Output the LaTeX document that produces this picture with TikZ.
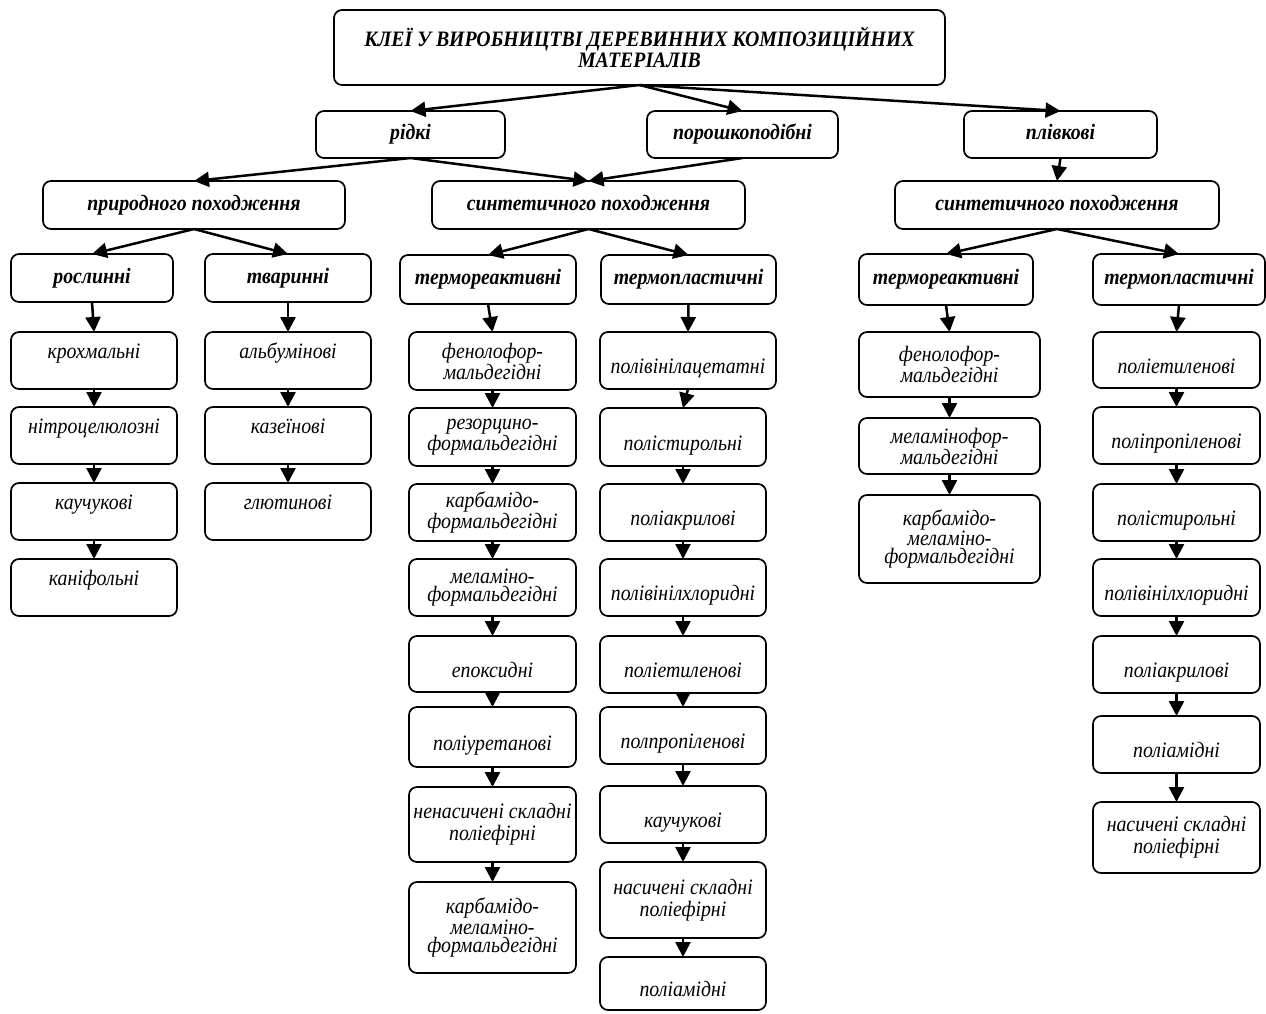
\documentclass[tikz,border=0pt]{standalone}
\usepackage{fontspec}
\setmainfont[FakeStretch=0.9]{Liberation Serif}
\usetikzlibrary{arrows.meta}
\newcommand{\txtup}[1]{\raisebox{7pt}[\height][\depth]{#1}}
\newcommand{\txtdn}[1]{\raisebox{-8pt}[\height][\depth]{#1}}
\newcommand{\mkbox}[7][leaf]{\node[#1, minimum width={#4-#2}, minimum height={#5-#3}] (#6) at ({(#2+#4)/2},{(#3+#5)/2}) {#7};}
\tikzset{
 bx/.style={draw, line width=1.7pt, rounded corners=8pt, inner sep=0pt, outer sep=0pt, align=center},
 leaf/.style={bx, font=\fontsize{22}{18}\selectfont\itshape, text height=10pt, text depth=0pt},
 leafm/.style={bx, font=\fontsize{22}{18}\selectfont\itshape},
 leafw/.style={bx, font=\fontsize{22}{22}\selectfont\itshape},
 head/.style={bx, font=\fontsize{22}{18}\selectfont\bfseries\itshape, text height=10pt, text depth=0pt},
 ttl/.style={bx, font=\fontsize{22}{21}\selectfont\bfseries\itshape},
 arr/.style={line width=2.5pt, -{Triangle[length=15pt,width=15pt]}},
}
\begin{document}
\begin{tikzpicture}[x=1pt,y=-1pt]
\useasboundingbox (0,0) rectangle (1266,1013);
% title and level 2
\mkbox[ttl]{334}{10}{945}{85}{title}{КЛЕЇ У ВИРОБНИЦТВІ ДЕРЕВИННИХ КОМПОЗИЦІЙНИХ\\МАТЕРІАЛІВ}
\mkbox[head]{316}{111}{505}{158}{ridki}{рідкі}
\mkbox[head]{647}{111}{838}{158}{poroshok}{порошкоподібні}
\mkbox[head]{964}{111}{1157}{158}{plivk}{плівкові}
% level 3
\mkbox[head]{43}{181}{345}{229}{pryr}{природного походження}
\mkbox[head]{432}{181}{745}{229}{synM}{синтетичного походження}
\mkbox[head]{895}{181}{1219}{229}{synR}{синтетичного походження}
% level 4
\mkbox[head]{11}{254}{173}{302}{rosl}{рослинні}
\mkbox[head]{205}{254}{371}{302}{tvar}{тваринні}
\mkbox[head]{400}{255}{576}{304}{trM}{термореактивні}
\mkbox[head]{601}{255}{776}{304}{tpM}{термопластичні}
\mkbox[head]{859}{254}{1033}{305}{trR}{термореактивні}
\mkbox[head]{1093}{254}{1265}{305}{tpR}{термопластичні}
% column A
\mkbox{11}{332}{177}{389}{a1}{\txtup{крохмальні}}
\mkbox{11}{407}{177}{464}{a2}{\txtup{нітроцелюлозні}}
\mkbox{11}{483}{177}{540}{a3}{\txtup{каучукові}}
\mkbox{11}{559}{177}{616}{a4}{\txtup{каніфольні}}
% column B
\mkbox{205}{332}{371}{389}{b1}{\txtup{альбумінові}}
\mkbox{205}{407}{371}{464}{b2}{\txtup{казеїнові}}
\mkbox{205}{483}{371}{540}{b3}{\txtup{глютинові}}
% column C
\mkbox[leafm]{409}{332}{576}{390}{c1}{фенолофор-\\мальдегідні}
\mkbox[leafm]{409}{408}{576}{466}{c2}{резорцино-\\формальдегідні}
\mkbox[leafm]{409}{484}{576}{541}{c3}{карбамідо-\\формальдегідні}
\mkbox[leafm]{409}{559}{576}{616}{c4}{меламіно-\\формальдегідні}
\mkbox{409}{636}{576}{692}{c5}{\txtdn{епоксидні}}
\mkbox{409}{707}{576}{767}{c6}{\txtdn{поліуретанові}}
\mkbox[leafw]{409}{787}{576}{862}{c7}{ненасичені складні\\поліефірні}
\mkbox[leafm]{409}{882}{576}{973}{c8}{карбамідо-\\меламіно-\\формальдегідні}
% column D
\mkbox{600}{332}{776}{389}{d1}{\txtdn{полівінілацетатні}}
\mkbox{600}{408}{766}{466}{d2}{\txtdn{полістирольні}}
\mkbox{600}{484}{766}{541}{d3}{\txtdn{поліакрилові}}
\mkbox{600}{559}{766}{616}{d4}{\txtdn{полівінілхлоридні}}
\mkbox{600}{636}{766}{693}{d5}{\txtdn{поліетиленові}}
\mkbox{600}{707}{766}{764}{d6}{\txtdn{полпропіленові}}
\mkbox{600}{786}{766}{843}{d7}{\txtdn{каучукові}}
\mkbox[leafw]{600}{862}{766}{938}{d8}{насичені складні\\поліефірні}
\mkbox{600}{957}{766}{1010}{d9}{\txtdn{поліамідні}}
% column E
\mkbox[leafm]{859}{332}{1040}{397}{e1}{фенолофор-\\мальдегідні}
\mkbox[leafm]{859}{418}{1040}{474}{e2}{меламінофор-\\мальдегідні}
\mkbox[leafm]{859}{495}{1040}{583}{e3}{карбамідо-\\меламіно-\\формальдегідні}
% column F
\mkbox{1093}{332}{1260}{388}{f1}{\txtdn{поліетиленові}}
\mkbox{1093}{407}{1260}{464}{f2}{\txtdn{поліпропіленові}}
\mkbox{1093}{484}{1260}{541}{f3}{\txtdn{полістирольні}}
\mkbox{1093}{559}{1260}{616}{f4}{\txtdn{полівінілхлоридні}}
\mkbox{1093}{636}{1260}{693}{f5}{\txtdn{поліакрилові}}
\mkbox{1093}{716}{1260}{773}{f6}{\txtdn{поліамідні}}
\mkbox[leafw]{1093}{802}{1260}{873}{f7}{насичені складні\\поліефірні}
% connectors: top levels
\draw[arr] (title.south) -- (ridki.north);
\draw[arr] (title.south) -- (poroshok.north);
\draw[arr] (title.south) -- (plivk.north);
\draw[arr] (ridki.south) -- (pryr.north);
\draw[arr] (ridki.south) -- (synM.north);
\draw[arr] (poroshok.south) -- (synM.north);
\draw[arr] (plivk.south) -- (synR.north);
\draw[arr] (pryr.south) -- (rosl.north);
\draw[arr] (pryr.south) -- (tvar.north);
\draw[arr] (synM.south) -- (trM.north);
\draw[arr] (synM.south) -- (tpM.north);
\draw[arr] (synR.south) -- (trR.north);
\draw[arr] (synR.south) -- (tpR.north);
% connectors: columns
\foreach \p/\c in {rosl/a1,a1/a2,a2/a3,a3/a4,
                   tvar/b1,b1/b2,b2/b3,
                   trM/c1,c1/c2,c2/c3,c3/c4,c4/c5,c5/c6,c6/c7,c7/c8,
                   tpM/d1,d1/d2,d2/d3,d3/d4,d4/d5,d5/d6,d6/d7,d7/d8,d8/d9,
                   trR/e1,e1/e2,e2/e3,
                   tpR/f1,f1/f2,f2/f3,f3/f4,f4/f5,f5/f6,f6/f7}
  \draw[arr] (\p.south) -- (\c.north);
\end{tikzpicture}
\end{document}
